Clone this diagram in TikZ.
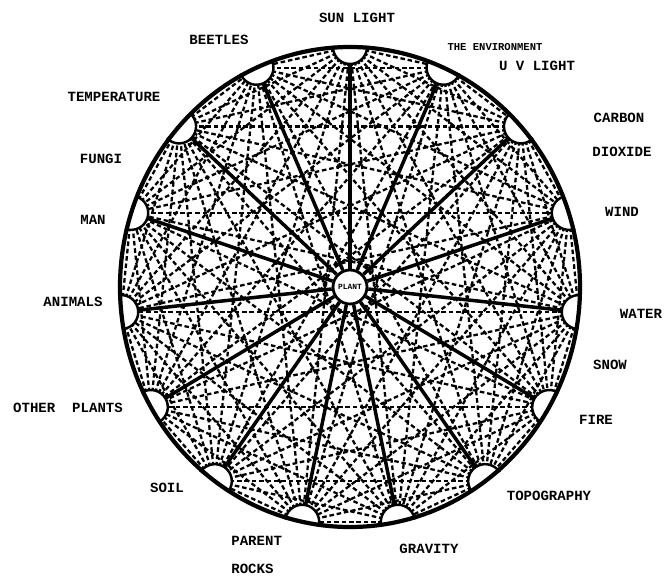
\documentclass[tikz,border=0pt]{standalone}
\usepackage{fontspec}
\setmainfont{Liberation Mono}
\usetikzlibrary{positioning, calc}

\tikzset{
  lbl/.style={font=\bfseries\fontsize{8}{9}\selectfont, inner sep=0pt},
  smalllbl/.style={font=\bfseries\fontsize{6}{7}\selectfont, inner sep=0pt},
  chord/.style={dash pattern=on 2.6pt off 1.6pt, line width=1.3pt},
  spoke/.style={line width=2pt},
  bay/.style={fill=white, line width=1.4pt},
}

\begin{document}
\begin{tikzpicture}[x=0.02cm, y=0.02cm]
            \useasboundingbox (0,0) rectangle (666,576);

            \coordinate (C) at (350,289);
            \foreach \i in {0,...,14} {
                \pgfmathsetmacro\ang{90-24*\i}
                \coordinate (p\i) at ($(C)+({230*cos(\ang)},{240*sin(\ang)})$);
            }

            \node[draw, circle, fill=white, line width=1.6pt, minimum size=0.68cm, inner sep=0pt,
                  font=\bfseries\fontsize{4.5}{5}\selectfont] (plant) at (C) {PLANT};

            \foreach \i in {0,...,13} {
                \pgfmathtruncatemacro\j{\i+1}
                \foreach \k in {\j,...,14} {
                    \draw[chord] (p\i) -- (p\k);
                }
            }

            \foreach \i in {0,...,14} {
                \draw[spoke] (plant) -- (p\i);
            }

            \foreach \i in {0,...,14} {
                \pgfmathsetmacro\ang{90-24*\i}
                \filldraw[bay] ($(p\i)+(\ang+90:17)$) arc[start angle=\ang+90, end angle=\ang+270, radius=17] -- cycle;
            }

            \draw[line width=2.4pt] (C) ellipse [x radius=230, y radius=240];

            \node[lbl] (sunlight) at (357,558) {SUN LIGHT};
            \node[lbl] (beetles) at (219,536) {BEETLES};
            \node[smalllbl] (environment) at (495,529) {THE ENVIRONMENT};
            \node[lbl] (uvlight) at (537,510) {U V LIGHT};
            \node[lbl] (carbon) at (619,458) {CARBON};
            \node[lbl] (dioxide) at (622,424) {DIOXIDE};
            \node[lbl] (wind) at (622,364) {WIND};
            \node[lbl] (water) at (641,262) {WATER};
            \node[lbl] (snow) at (610,211) {SNOW};
            \node[lbl] (fire) at (596,156) {FIRE};
            \node[lbl] (topography) at (549,80) {TOPOGRAPHY};
            \node[lbl] (gravity) at (429,27) {GRAVITY};
            \node[lbl, anchor=west] (parent) at (231,35) {PARENT};
            \node[lbl, anchor=west] (rocks) at (231,7) {ROCKS};
            \node[lbl] (soil) at (167,88) {SOIL};
            \node[lbl] (otherplants) at (68,168) {OTHER\ \ PLANTS};
            \node[lbl] (animals) at (73,274) {ANIMALS};
            \node[lbl] (man) at (93,356) {MAN};
            \node[lbl] (fungi) at (101,417) {FUNGI};
            \node[lbl] (temperature) at (114,479) {TEMPERATURE};
        \end{tikzpicture}
\end{document}
